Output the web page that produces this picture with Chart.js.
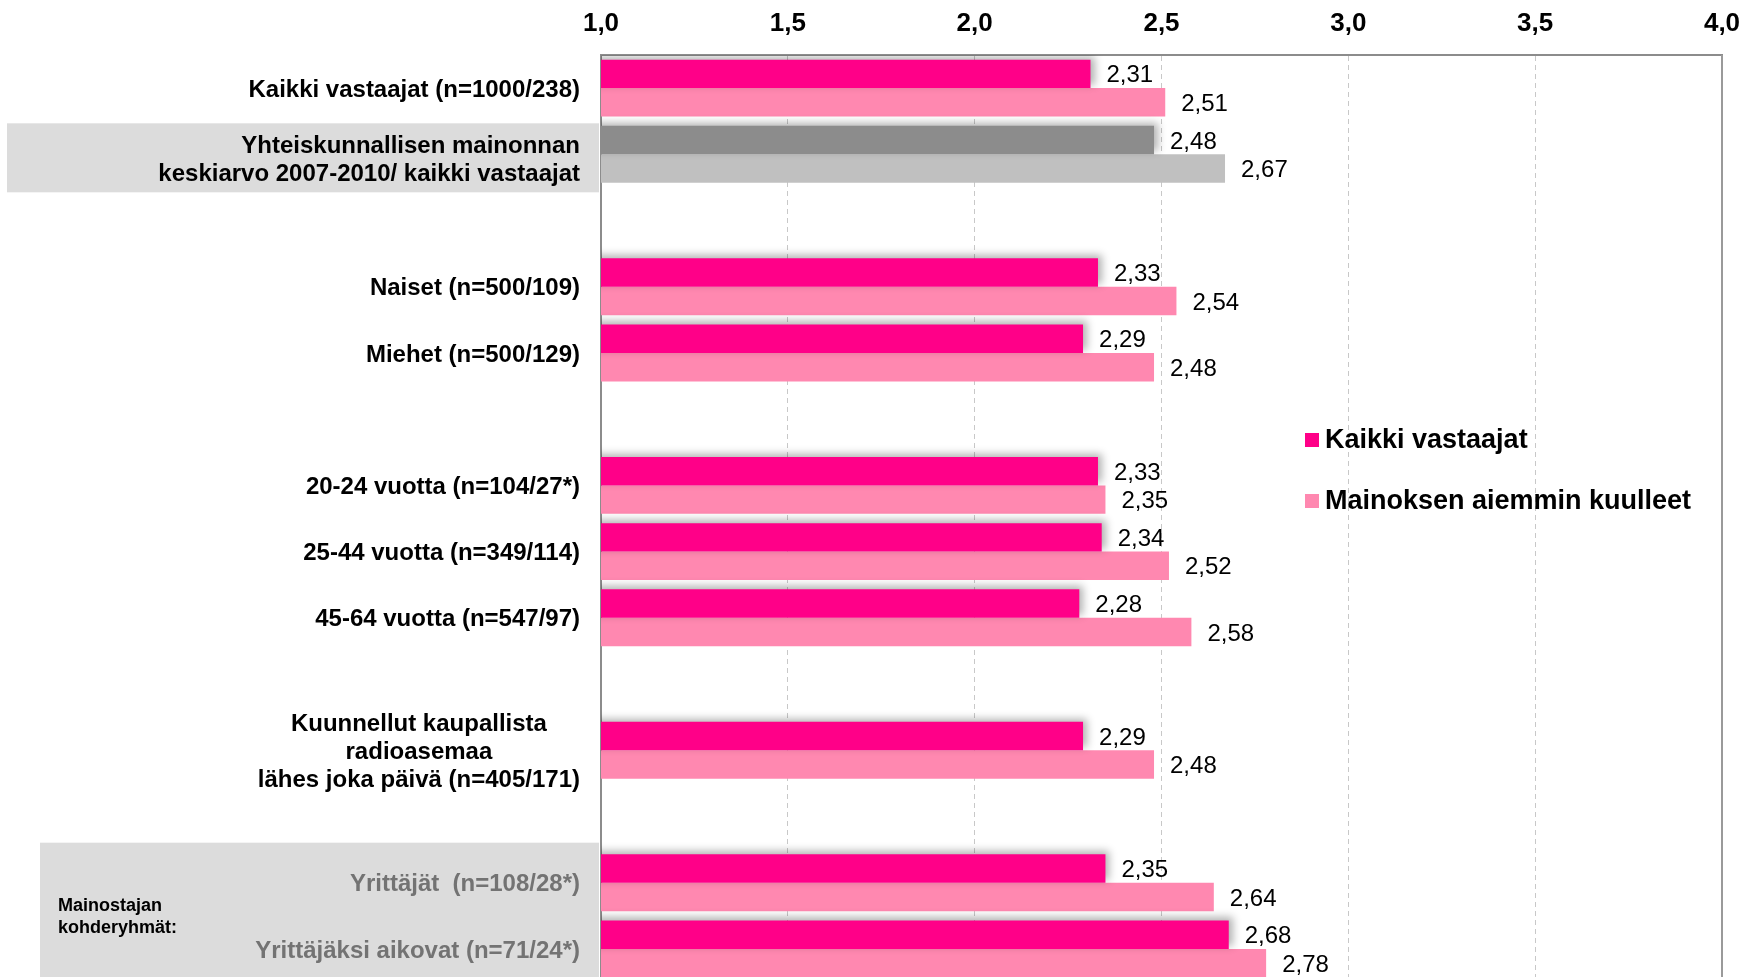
<!DOCTYPE html>
<html>
<head>
<meta charset="utf-8">
<script src="https://cdn.jsdelivr.net/npm/chart.js@4/dist/chart.umd.min.js"></script>
<style>
    body { margin: 0; background: #fff; overflow: hidden; }
    #wrap { width: 1744px; height: 977px; overflow: hidden; }
</style>
</head>
<body>
<div id="wrap"><canvas id="myChart1" width="1744" height="982"></canvas></div>
<script>
// categories (empty ones are the spacer rows)
const categories = [
    'Kaikki vastaajat (n=1000/238)',
    ['Yhteiskunnallisen mainonnan', 'keskiarvo 2007-2010/ kaikki vastaajat'],
    '',
    'Naiset (n=500/109)',
    'Miehet (n=500/129)',
    '',
    '20-24 vuotta (n=104/27*)',
    '25-44 vuotta (n=349/114)',
    '45-64 vuotta (n=547/97)',
    '',
    ['Kuunnellut kaupallista', 'radioasemaa', 'lähes joka päivä (n=405/171)'],
    '',
    'Yrittäjät  (n=108/28*)',
    'Yrittäjäksi aikovat (n=71/24*)'
];
const seriesNames = ['Kaikki vastaajat', 'Mainoksen aiemmin kuulleet'];
const kaikkiVastaajat = [2.31, 2.48, null, 2.33, 2.29, null, 2.33, 2.34, 2.28, null, 2.29, null, 2.35, 2.68];
const aiemminKuulleet = [2.51, 2.67, null, 2.54, 2.48, null, 2.35, 2.52, 2.58, null, 2.48, null, 2.64, 2.78];
const xTicks = [1.0, 1.5, 2.0, 2.5, 3.0, 3.5, 4.0];
const groupNote = ['Mainostajan', 'kohderyhmät:'];

const pink = '#ff0088';
const lightPink = '#ff88b0';
const fmt = v => v.toFixed(2).replace('.', ',');

// row 1 is the reference row (grey bars)
const darkColors = categories.map((c, i) => i === 1 ? '#8c8c8c' : pink);
const lightColors = categories.map((c, i) => i === 1 ? '#c0c0c0' : lightPink);

//background boxes behind labels
const boxPlugin = {
    id: 'boxes',
    beforeDraw(chart) {
        const ctx = chart.ctx;
        const y = chart.scales.y;
        const left = chart.chartArea.left;
        ctx.save();
        ctx.fillStyle = '#dcdcdc';
        let c1 = y.getPixelForValue(1);
        ctx.fillRect(7, c1 - 31, left - 9, 69);
        let c2 = y.getPixelForValue(12);
        ctx.fillRect(40, c2 - 40, left - 42, chart.height - (c2 - 40));
        ctx.restore();
    }
};

// shadow on the darker bars
const shadowPlugin = {
    id: 'shadow',
    beforeDatasetDraw(chart, args) {
        const ctx = chart.ctx;
        ctx.save();
        if (args.index === 0) {
            ctx.shadowColor = 'rgba(0,0,0,0.3)';
            ctx.shadowBlur = 8;
            ctx.shadowOffsetX = 4;
            ctx.shadowOffsetY = -3;
        }
    },
    afterDatasetDraw(chart) {
        chart.ctx.restore();
    }
};

const labelPlugin = {
    id: 'labels',
    afterDraw(chart) {
        const ctx = chart.ctx;
        const y = chart.scales.y;
        const area = chart.chartArea;
        ctx.save();

        // solid line at 4,0
        ctx.strokeStyle = '#9a9a9a';
        ctx.lineWidth = 2;
        ctx.beginPath();
        ctx.moveTo(area.right, area.top);
        ctx.lineTo(area.right, area.bottom);
        ctx.stroke();

        // category labels
        ctx.font = 'bold 24px "Liberation Sans", Arial, sans-serif';
        ctx.textBaseline = 'middle';
        const rightX = area.left - 21;
        categories.forEach((lab, i) => {
            if (!lab) return;
            const lines = Array.isArray(lab) ? lab : [lab];
            const cy = y.getPixelForValue(i) + 2 + (lines.length === 2 ? 4 : 0);
            const lh = 28;
            ctx.fillStyle = i >= 12 ? '#737373' : '#000';
            const widths = lines.map(l => ctx.measureText(l).width);
            const maxW = Math.max(...widths);
            lines.forEach((l, k) => {
                const ly = cy + (k - (lines.length - 1) / 2) * lh;
                if (lines.length === 3) {
                    ctx.textAlign = 'center';
                    ctx.fillText(l, rightX - maxW / 2, ly);
                } else {
                    ctx.textAlign = 'right';
                    ctx.fillText(l, rightX, ly);
                }
            });
        });

        // note in the lower box
        ctx.font = 'bold 18px "Liberation Sans", Arial, sans-serif';
        ctx.fillStyle = '#000';
        ctx.textAlign = 'left';
        const ny = (y.getPixelForValue(12) + y.getPixelForValue(13)) / 2;
        ctx.fillText(groupNote[0], 58, ny - 10);
        ctx.fillText(groupNote[1], 58, ny + 12);

        // value labels
        ctx.font = '24px "Liberation Sans", Arial, sans-serif';
        ctx.fillStyle = '#000';
        chart.data.datasets.forEach((ds, di) => {
            const meta = chart.getDatasetMeta(di);
            meta.data.forEach((bar, i) => {
                const v = ds.data[i];
                if (v == null) return;
                ctx.fillText(fmt(v), bar.x + 16, bar.y + 2);
            });
        });

        // legend
        const legendY = [441, 502];
        const legendColors = [pink, lightPink];
        ctx.font = 'bold 27px "Liberation Sans", Arial, sans-serif';
        seriesNames.forEach((name, k) => {
            ctx.fillStyle = legendColors[k];
            ctx.fillRect(1305, legendY[k] - 8, 14, 14);
            ctx.fillStyle = '#000';
            ctx.fillText(name, 1325, legendY[k]);
        });
        ctx.restore();
    }
};

const config = {
    type: 'bar',
    data: {
        labels: categories,
        datasets: [{
            label: seriesNames[0],
            data: kaikkiVastaajat,
            backgroundColor: darkColors,
            categoryPercentage: 0.86,
            barPercentage: 1.0
        },
        {
            label: seriesNames[1],
            data: aiemminKuulleet,
            backgroundColor: lightColors,
            categoryPercentage: 0.86,
            barPercentage: 1.0
        }]
    },
    options: {
        indexAxis: 'y',
        responsive: false,
        animation: false,
        devicePixelRatio: 1,
        layout: { padding: { left: 601, right: 22, top: 0, bottom: 0 } },
        plugins: {
            legend: { display: false },
            tooltip: { enabled: false }
        },
        scales: {
            x: {
                position: 'top',
                min: 1,
                max: 4,
                afterBuildTicks: (scale) => {
                    scale.ticks = xTicks.map(v => ({ value: v }));
                },
                afterFit: (scale) => {
                    scale.height = 55;
                    scale.paddingLeft = 0;
                    scale.paddingRight = 0;
                },
                ticks: {
                    padding: 16,
                    color: '#000',
                    font: { family: '"Liberation Sans", Arial, sans-serif', size: 26, weight: 'bold' },
                    callback: v => v.toFixed(1).replace('.', ',')
                },
                grid: {
                    drawTicks: false,
                    color: (c) => (c.tick && (c.tick.value === 1 || c.tick.value === 4)) ? 'rgba(0,0,0,0)' : '#c8c8c8',
                    lineWidth: 1
                },
                border: { display: true, color: '#8c8c8c', width: 2, dash: [5, 4] }
            },
            y: {
                ticks: { display: false },
                grid: { display: false },
                afterFit: (scale) => { scale.width = 0; },
                border: { display: true, color: '#8c8c8c', width: 2 }
            }
        }
    },
    plugins: [boxPlugin, shadowPlugin, labelPlugin]
};

const canvas = document.getElementById('myChart1');
window.myChart = new Chart(canvas, config);
</script>
</body>
</html>
